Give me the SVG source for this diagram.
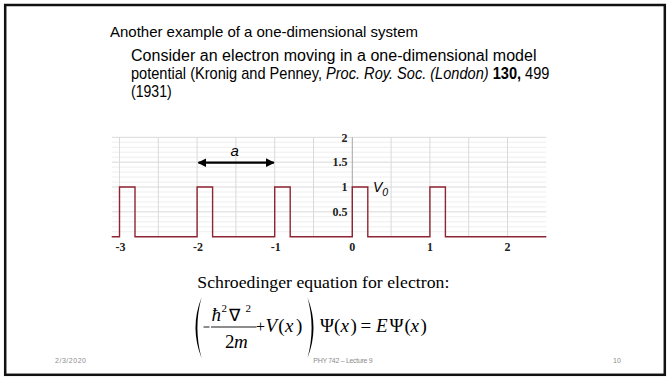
<svg xmlns="http://www.w3.org/2000/svg" width="670" height="378" viewBox="0 0 670 378">
<defs>
<style>
.body{font-family:"Liberation Sans",Arial,sans-serif;fill:#000}
.tick{font-family:"Liberation Serif","Times New Roman",serif;font-size:12px;font-weight:bold;fill:#222}
.minor{stroke:#eeeeee;stroke-width:1}
.major{stroke:#d9d9d9;stroke-width:1}
.math{font-family:"Liberation Serif","Times New Roman",serif;font-size:19px;fill:#000}
.it{font-style:italic}
.foot{font-family:"Liberation Sans",Arial,sans-serif;font-size:7px;fill:#8c8c8c}
</style>
<marker id="ah" viewBox="0 0 10 10" refX="9" refY="5" markerWidth="4" markerHeight="4" orient="auto-start-reverse">
<path d="M0,0 L10,5 L0,10 z" fill="#000"/>
</marker>
</defs>
<rect x="0" y="0" width="670" height="378" fill="#fff"/>
<rect x="5.2" y="5" width="659.6" height="369.8" fill="none" stroke="#111" stroke-width="2.5"/>

<g id="title-text" class="body">
<text x="110" y="36.7" font-size="15" textLength="308">Another example of a one-dimensional system</text>
<text x="131" y="60.5" font-size="16" textLength="405.5">Consider an electron moving in a one-dimensional model</text>
<g transform="translate(131,0) scale(0.912,1) translate(-131,0)">
<text x="131" y="78.8" font-size="16">potential (Kronig and Penney, <tspan font-style="italic">Proc. Roy. Soc. (London)</tspan> <tspan font-weight="bold">130,</tspan> 499</text>
</g>
<text x="131" y="96.5" font-size="16" textLength="40.7" lengthAdjust="spacingAndGlyphs">(1931)</text>
</g>

<g id="plot">
<g id="grid">
<path class="minor" d="M112,231.73H546.3M112,226.76H546.3M112,221.79H546.3M112,216.82H546.3M112,206.88H546.3M112,201.91H546.3M112,196.94H546.3M112,191.97H546.3M112,182.03H546.3M112,177.06H546.3M112,172.09H546.3M112,167.12H546.3M112,157.18H546.3M112,152.21H546.3M112,147.24H546.3M112,142.27H546.3"/>
<path class="major" d="M112,211.85H546.3M112,187H546.3M112,162.15H546.3M112,137.3H546.3"/>
<path class="major" d="M119.5,137.3V236.7M158.3,137.3V236.7M197.1,137.3V236.7M235.9,137.3V236.7M274.7,137.3V236.7M313.5,137.3V236.7M391.1,137.3V236.7M429.9,137.3V236.7M468.7,137.3V236.7M507.5,137.3V236.7"/>
<path d="M352.3,137.3V236.7" stroke="#a6a6a6" stroke-width="1"/>
</g>
<g id="y-labels" class="tick" text-anchor="end">
<text x="347.5" y="141.5">2</text>
<text x="347.5" y="166.3">1.5</text>
<text x="347.5" y="191.2">1</text>
<text x="347.5" y="216">0.5</text>
</g>
<g id="x-labels" class="tick" text-anchor="middle">
<text x="120.5" y="251">-3</text>
<text x="198.1" y="251">-2</text>
<text x="275.7" y="251">-1</text>
<text x="352.3" y="251">0</text>
<text x="429.9" y="251">1</text>
<text x="507.5" y="251">2</text>
</g>
<g id="potential">
<path d="M111.7,236.7H119.5V187H135V236.7H197.1V187H212.6V236.7H274.7V187H290.2V236.7H352.3V187H367.8V236.7H429.9V187H445.4V236.7H546.3" fill="none" stroke="#8e2532" stroke-width="1.4"/>
</g>
<g id="connectors">
<line x1="198.5" y1="162.7" x2="273.8" y2="162.7" stroke="#000" stroke-width="2.2" marker-start="url(#ah)" marker-end="url(#ah)"/>
</g>
<g id="labels" class="body">
<text x="230.5" y="155.7" font-size="15" font-style="italic">a</text>
<text x="373" y="191.7" font-size="14" font-style="italic">V<tspan font-size="10.5" dy="4">0</tspan></text>
</g>
</g>

<g id="schroedinger">
<text x="197.3" y="288.3" font-family="'Liberation Serif','Times New Roman',serif" font-size="17.7" textLength="252">Schroedinger equation for electron:</text>
<path d="M201.5,297.5 Q189.5,327.8 201.5,358 Q193.3,327.8 201.5,297.5 Z" fill="#000"/>
<path d="M307.5,297.5 Q319.5,327.8 307.5,358 Q315.7,327.8 307.5,297.5 Z" fill="#000"/>
<line x1="203.5" y1="327" x2="209.5" y2="327" stroke="#000" stroke-width="0.9"/>
<line x1="211" y1="327" x2="256.5" y2="327" stroke="#000" stroke-width="0.9"/>
<text class="math" y="321"><tspan x="211.5" class="it">ħ</tspan><tspan x="221.5" y="312" font-size="11">2</tspan><tspan x="228.5" y="321" font-size="17">∇</tspan><tspan x="245.5" y="312" font-size="11">2</tspan></text>
<text class="math" y="348.3"><tspan x="225">2</tspan><tspan x="234" class="it">m</tspan></text>
<text class="math" y="331.7"><tspan x="256" font-size="16">+</tspan><tspan x="265.5" class="it">V</tspan><tspan x="278.3">(</tspan><tspan x="285" class="it">x</tspan><tspan x="296">)</tspan><tspan x="320">Ψ</tspan><tspan x="334">(</tspan><tspan x="340.5" class="it">x</tspan><tspan x="350.5">)</tspan><tspan x="360.5">=</tspan><tspan x="376" class="it">E</tspan><tspan x="389.5">Ψ</tspan><tspan x="404.5">(</tspan><tspan x="410.5" class="it">x</tspan><tspan x="420.5">)</tspan></text>
</g>

<g id="footer" class="foot">
<text x="55" y="363" textLength="31">2/3/2020</text>
<text x="313.3" y="363" textLength="59.4">PHY 742 – Lecture 9</text>
<text x="613" y="363" textLength="8">10</text>
</g>
</svg>
